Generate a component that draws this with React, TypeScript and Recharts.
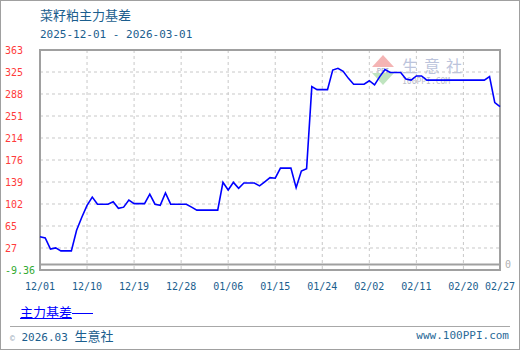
import {
  CartesianGrid,
  Line,
  LineChart,
  ReferenceArea,
  ReferenceLine,
  XAxis,
  YAxis,
} from "recharts";

// day index counted from 2025-12-01
const days = [
  0, 1, 2, 3, 4, 5, 6, 7, 8, 9, 10, 11, 12, 13, 14, 15, 16, 17, 18, 19, 20,
  21, 22, 23, 24, 25, 26, 27, 28, 29, 30, 31, 32, 33, 34, 35, 36, 37, 38, 39,
  40, 41, 42, 43, 44, 45, 46, 47, 48, 49, 50, 51, 52, 53, 54, 55, 56, 57, 58,
  59, 60, 61, 62, 63, 64, 65, 66, 67, 68, 69, 70, 71, 72, 73, 74, 75, 76, 77,
  78, 79, 80, 81, 82, 83, 84, 85, 86, 87, 88,
];

const basis = [
  47, 45, 26, 28, 23, 23, 23, 58, 80, 100, 114, 102, 102, 102, 106, 95, 97,
  109, 103, 103, 103, 119, 102, 100, 121, 102, 102, 102, 102, 97, 92, 92, 92,
  92, 92, 139, 126, 139, 129, 138, 138, 138, 133, 140, 147, 146, 163, 163, 163,
  130, 158, 162, 301, 296, 296, 296, 329, 332, 327, 315, 305, 305, 305, 311,
  304, 318, 330, 325, 325, 325, 314, 312, 319, 319, 312, 312, 312, 312, 312,
  312, 312, 312, 312, 312, 312, 312, 318, 274, 267,
];

const xTicks = [0, 9, 18, 27, 36, 45, 54, 63, 72, 81, 88];
const xTickLabels = [
  "12/01", "12/10", "12/19", "12/28", "01/06", "01/15",
  "01/24", "02/02", "02/11", "02/20", "02/27",
];

const yTicks = [
  -9.36, 27.88, 65.11, 102.35, 139.58, 176.82, 214.06, 251.29, 288.53, 325.76,
  363,
];
const yTickLabels = [
  "-9.36", "27", "65", "102", "139", "176", "214", "251", "288", "325", "363",
];

const chartData = days.map((day, i) => ({ day, basis: basis[i] }));

const mono = "'DejaVu Sans Mono', monospace";
const cjk = "'Noto Sans CJK SC', sans-serif";
const navy = "#1b5e8e";

function YTick({ y, payload }: { y?: number; payload?: { value: number } }) {
  const i = yTicks.indexOf(payload?.value as number);
  return (
    <text
      x={5}
      y={y}
      dy="0.36em"
      fill={i === 0 ? "#33aa33" : "#ff3b3b"}
      fontFamily={mono}
      fontSize={10}
      textAnchor="start"
    >
      {yTickLabels[i]}
    </text>
  );
}

function Watermark() {
  return (
    <svg
      width={520}
      height={350}
      style={{ position: "absolute", left: 0, top: 0 }}
    >
      <polygon points="372,67 394,67 383,55" fill="#f4b4b4" />
      <polygon points="372,73 394,73 383,85" fill="#bfe4bf" />
      <text x={383} y={72.5} fontSize={7} fill="#9aa4bc" textAnchor="middle" fontFamily={mono}>
        PPI
      </text>
      <text x={402} y={72} fontSize={16} fill="#bcc4dc" fontFamily={cjk} letterSpacing={6}>
        生意社
      </text>
      <text x={402} y={84} fontSize={8} fill="#bcc0cc" fontFamily={mono}>
        100PPI.COM
      </text>
    </svg>
  );
}

export default function App() {
  return (
    <div
      style={{
        position: "absolute",
        left: 0,
        top: 0,
        width: 520,
        height: 350,
        background: "#fff",
        boxShadow: "inset 0 0 0 1px #a0a0a0",
        overflow: "hidden",
      }}
    >
      <Watermark />
      <div
        style={{
          position: "absolute",
          left: 40,
          top: 6,
          fontFamily: cjk,
          fontSize: 13,
          lineHeight: "18px",
          color: navy,
        }}
      >
        菜籽粕主力基差
      </div>
      <div
        style={{
          position: "absolute",
          left: 40,
          top: 28,
          fontFamily: mono,
          fontSize: 11,
          lineHeight: "14px",
          color: navy,
        }}
      >
        2025-12-01 - 2026-03-01
      </div>
      <div style={{ position: "absolute", left: 0, top: 0 }}>
        <LineChart
          width={520}
          height={350}
          data={chartData}
          margin={{ top: 50, right: 20, bottom: 50, left: 0 }}
        >
          <CartesianGrid stroke="#c8c8c8" strokeDasharray="3 3" />
          <XAxis
            dataKey="day"
            type="number"
            domain={[0, 88]}
            ticks={xTicks}
            interval={0}
            height={30}
            axisLine={false}
            tickLine={false}
            tickSize={0}
            tickMargin={13}
            tickFormatter={(v: number) => xTickLabels[xTicks.indexOf(v)]}
            tick={{ fill: navy, fontSize: 10, fontFamily: mono }}
          />
          <YAxis
            type="number"
            domain={[-9.36, 363]}
            ticks={yTicks}
            interval={0}
            width={40}
            axisLine={false}
            tickLine={false}
            tick={<YTick />}
          />
          <ReferenceArea
            x1={0}
            x2={88}
            y1={-9.36}
            y2={363}
            fillOpacity={0}
            stroke="#a0a0a0"
            strokeWidth={2}
          />
          <ReferenceLine
            y={0}
            stroke="#a0a0a0"
            strokeWidth={2}
            label={{
              value: "0",
              position: "right",
              fill: "#b0b0b0",
              fontSize: 10,
              fontFamily: mono,
            }}
          />
          <Line
            dataKey="basis"
            type="linear"
            stroke="#0000ff"
            strokeWidth={1.6}
            dot={false}
            isAnimationActive={false}
          />
        </LineChart>
      </div>
      <div
        style={{
          position: "absolute",
          left: 20,
          top: 303,
          fontFamily: cjk,
          fontSize: 13,
          lineHeight: "17px",
          color: "#0000ff",
          whiteSpace: "nowrap",
        }}
      >
        <span style={{ textDecoration: "underline" }}>主力基差</span>
        <span
          style={{
            display: "inline-block",
            width: 21,
            height: 1,
            background: "#0000ff",
            verticalAlign: "middle",
          }}
        />
      </div>
      <div
        style={{
          position: "absolute",
          left: 10,
          top: 326,
          width: 500,
          height: 1,
          background: "#a8a8a8",
        }}
      />
      <div
        style={{
          position: "absolute",
          left: 10,
          top: 327,
          lineHeight: "17px",
          color: navy,
          whiteSpace: "nowrap",
        }}
      >
        <span style={{ fontSize: 8, color: "#9aa8b8", fontFamily: mono }}>©</span>
        <span style={{ fontSize: 11, fontFamily: mono }}> 2026.03 </span>
        <span style={{ fontSize: 13, fontFamily: cjk }}>生意社</span>
      </div>
      <div
        style={{
          position: "absolute",
          right: 11,
          top: 328,
          lineHeight: "15px",
          fontSize: 11,
          fontFamily: mono,
          color: "#2a6a98",
          whiteSpace: "nowrap",
        }}
      >
        www.100PPI.com
      </div>
    </div>
  );
}
